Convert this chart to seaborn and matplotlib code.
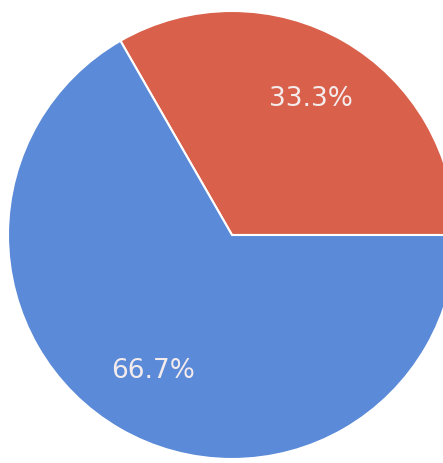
import matplotlib
matplotlib.use("Agg")
import matplotlib.pyplot as plt
import seaborn as sns

# Anteile der zwei Segmente
categories = ["Rot", "Blau"]
shares = [33.3, 66.7]
slice_colors = ["#d9604a", "#5b8ad8"]

sns.set_theme(style="white")
plt.rcParams['font.family'] = ['DejaVu Sans']

fig = plt.figure(figsize=(4.43, 4.63), dpi=100)
fig.patch.set_facecolor("white")

# Kreismittelpunkt ~ (232, 235) px, Radius ~ 224 px
W, H = 443, 463
cx, cy, r = 232, 235, 224
ax = fig.add_axes([(cx - r) / W, (H - cy - r) / H, 2 * r / W, 2 * r / H])

wedges, texts, autotexts = ax.pie(
    shares,
    colors=slice_colors,
    startangle=0,
    counterclock=True,
    autopct='%1.1f%%',
    pctdistance=0.7,
    wedgeprops=dict(edgecolor="white", linewidth=1.5),
    textprops=dict(color="#f4ecec", fontsize=19),
)
ax.set_xlim(-1, 1)
ax.set_ylim(-1, 1)
ax.set_aspect("equal")
ax.axis("off")

plt.savefig("out.png", dpi=100)
